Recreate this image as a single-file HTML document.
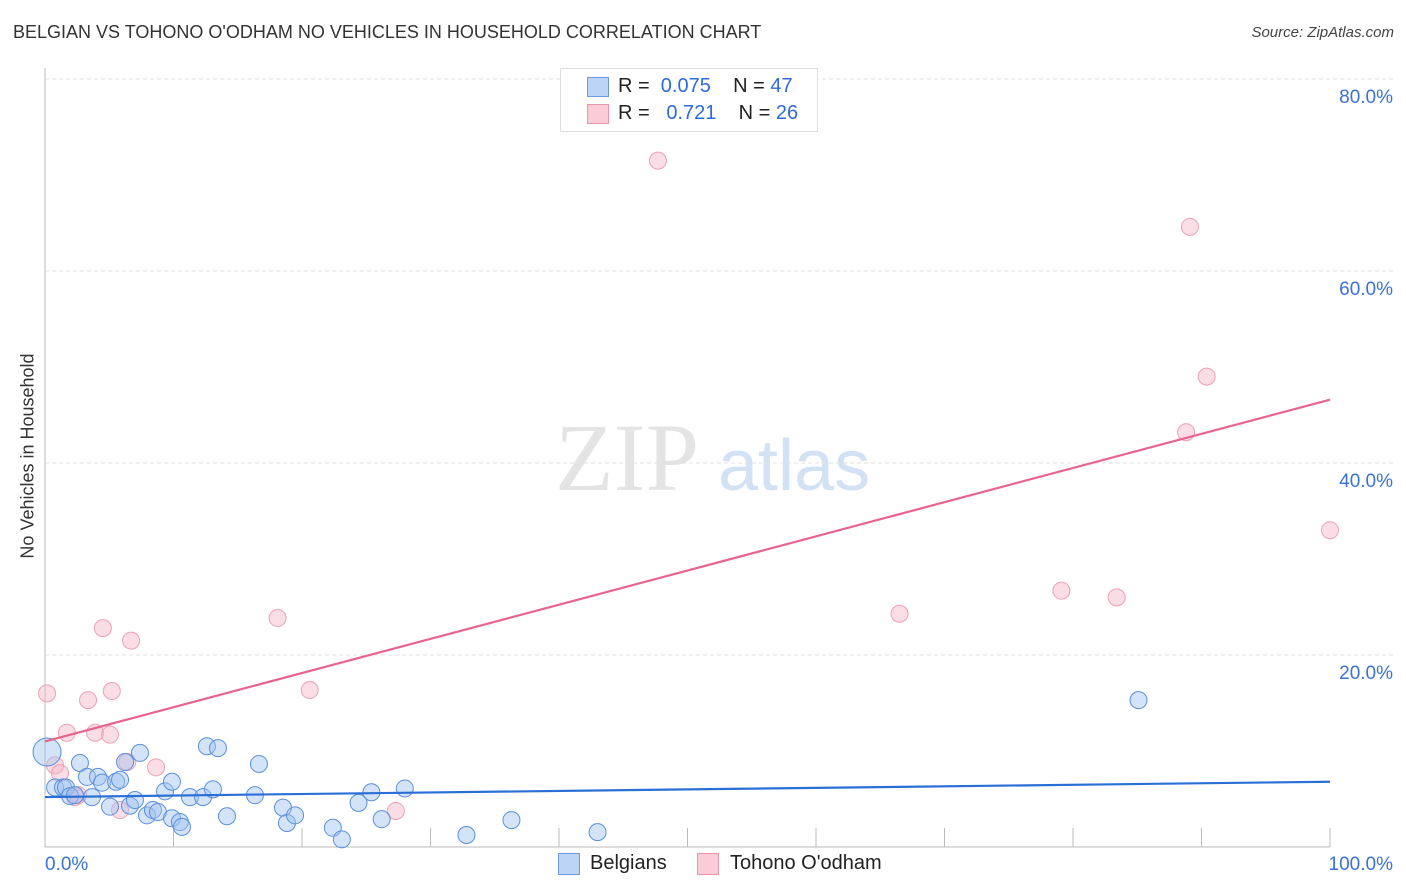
<!DOCTYPE html>
<html><head><meta charset="utf-8">
<style>
body{margin:0;background:#fff;font-family:"Liberation Sans",sans-serif;}
#wrap{position:relative;width:1406px;height:892px;overflow:hidden;}
.t{position:absolute;white-space:nowrap;}
</style></head>
<body>
<div id="wrap">
<div class="t" style="left:13px;top:22px;font-size:18px;color:#333;">BELGIAN VS TOHONO O'ODHAM NO VEHICLES IN HOUSEHOLD CORRELATION CHART</div>
<div class="t" style="right:12px;top:24px;font-size:15px;color:#444;font-style:italic;">Source: ZipAtlas.com</div>
<div class="t" style="left:28px;top:456px;font-size:18px;color:#333;transform:translate(-50%,-50%) rotate(-90deg);">No Vehicles in Household</div>
<svg id="plot" width="1406" height="892" style="position:absolute;left:0;top:0"></svg>
<div style="position:absolute;left:560px;top:68px;width:256px;height:62px;border:1px solid #ddd;background:#fff;font-size:20px;color:#222;">
 <div style="position:absolute;left:26px;top:8px;width:20px;height:18px;background:#bcd4f6;border:1px solid #6d9ae0;"></div>
 <div class="t" style="left:57px;top:6px;">R = <span style="color:#2f6bd8">&nbsp;0.075</span>&nbsp;&nbsp;&nbsp;&nbsp;N = <span style="color:#2f6bd8">47</span></div>
 <div style="position:absolute;left:26px;top:35px;width:20px;height:18px;background:#f9ccd8;border:1px solid #e894ac;"></div>
 <div class="t" style="left:57px;top:33px;">R = <span style="color:#2f6bd8">&nbsp;&nbsp;0.721</span>&nbsp;&nbsp;&nbsp;&nbsp;N = <span style="color:#2f6bd8">26</span></div>
</div>
<div style="position:absolute;left:558px;top:853px;width:20px;height:20px;background:#bcd4f6;border:1px solid #6d9ae0;"></div>
<div class="t" style="left:590px;top:852px;font-size:20px;color:#222;">Belgians</div>
<div style="position:absolute;left:697px;top:853px;width:20px;height:20px;background:#f9ccd8;border:1px solid #e894ac;"></div>
<div class="t" style="left:730px;top:852px;font-size:20px;color:#222;">Tohono O'odham</div>
</div>
<script>
const blueX=[0.16,0.78,1.4,1.63,1.95,2.33,2.72,3.27,3.66,4.12,4.44,5.06,5.53,5.84,6.23,6.61,7.0,7.39,7.94,8.4,8.79,9.34,9.88,9.88,10.5,10.66,11.28,12.3,12.6,13.07,13.46,14.16,16.34,16.65,18.52,18.83,19.46,22.4,23.1,24.4,25.4,26.2,28.0,32.8,36.3,43.0,85.1];
const blueY=[9.9,6.2,6.2,6.2,5.3,5.4,8.75,7.3,5.2,7.3,6.7,4.2,6.8,7.0,8.85,4.3,4.9,9.8,3.3,3.85,3.65,5.8,6.8,3.0,2.6,2.1,5.2,5.2,10.5,6.0,10.3,3.2,5.4,8.65,4.1,2.5,3.3,2.0,0.8,4.6,5.7,2.9,6.1,1.25,2.8,1.55,15.3];
const pinkX=[0.16,0.78,1.17,1.7,2.33,2.57,3.35,3.9,4.5,5.06,5.2,5.84,6.4,6.7,8.64,18.1,20.6,27.3,47.7,66.5,79.1,83.4,88.8,89.1,90.4,100];
const pinkY=[16.0,8.5,7.7,11.9,5.2,5.4,15.3,11.9,22.8,11.7,16.25,3.85,8.85,21.5,8.3,23.85,16.35,3.75,71.5,24.3,26.7,26.0,43.2,64.6,49.0,33.0];
const blueTrend=[5.2,6.8];
const pinkTrend=[11.0,46.6];
const yTicks=[20,40,60,80];
const xTicks=[0,10,20,30,40,50,60,70,80,90,100];
const sx=v=>45+v*12.85, sy=v=>847-v*9.6;
const svg=document.getElementById('plot');const NS='http://www.w3.org/2000/svg';
function mk(tag,attrs){const e=document.createElementNS(NS,tag);for(const k in attrs)e.setAttribute(k,attrs[k]);svg.appendChild(e);return e;}
// watermark
let w=mk('text',{x:555,y:490,'font-family':'Liberation Serif,serif','font-size':96,fill:'#e4e4e4'});w.textContent='ZIP';


w=mk('text',{x:718,y:490,'font-family':'Liberation Sans,sans-serif','font-size':72,fill:'#d3e1f5'});w.textContent='atlas';


yTicks.forEach(t=>{
 const g=mk('line',{x1:45,x2:1393,y1:sy(t),y2:sy(t),stroke:'#e2e2e2','stroke-dasharray':'4,3'});
 
 
 const l=mk('text',{x:1393,y:sy(t)+24,'text-anchor':'end','font-size':19,fill:'#3a72d8','font-family':'Liberation Sans,sans-serif'});l.textContent=t.toFixed(1)+'%';
 
 
});
let a=mk('line',{x1:45,x2:45,y1:68,y2:847,stroke:'#bbb'});


a=mk('line',{x1:45,x2:1330,y1:847,y2:847,stroke:'#bbb'});


xTicks.forEach(t=>{if(t===0)return;
 const k=mk('line',{x1:sx(t),x2:sx(t),y1:828,y2:847,stroke:'#bbb'});
 
 
});
let xl=mk('text',{x:45,y:870,'font-size':19,fill:'#3a72d8','font-family':'Liberation Sans,sans-serif'});xl.textContent='0.0%';


xl=mk('text',{x:1393,y:870,'text-anchor':'end','font-size':19,fill:'#3a72d8','font-family':'Liberation Sans,sans-serif'});xl.textContent='100.0%';


pinkX.forEach((x,i)=>{const c=mk('circle',{cx:sx(x),cy:sy(pinkY[i]),r:8.5,fill:'rgba(247,180,200,0.45)',stroke:'#eda0b6','stroke-width':1});
 
 });
blueX.forEach((x,i)=>{const c=mk('circle',{cx:sx(x),cy:sy(blueY[i]),r:i===0?14:8.5,fill:'rgba(160,195,240,0.45)',stroke:'#5b8fdc','stroke-width':1});
 
 });
let tl=mk('line',{x1:sx(0),x2:sx(100),y1:sy(pinkTrend[0]),y2:sy(pinkTrend[1]),stroke:'#e8648e','stroke-width':2.2});


tl=mk('line',{x1:sx(0),x2:sx(100),y1:sy(blueTrend[0]),y2:sy(blueTrend[1]),stroke:'#2a6fd6','stroke-width':2.2});


</script>
</body></html>
